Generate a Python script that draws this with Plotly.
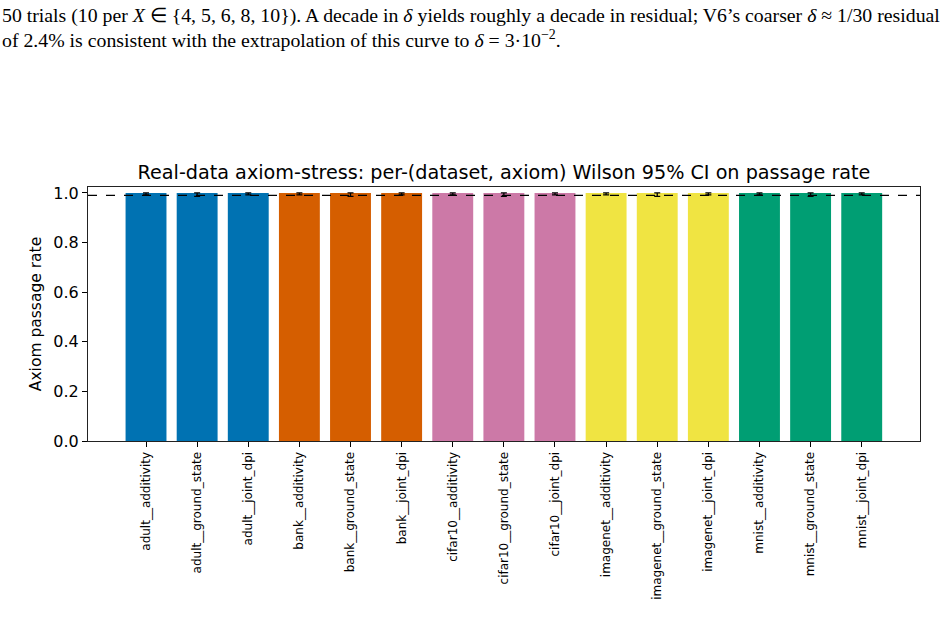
import plotly.graph_objects as go

labels = ["adult__additivity", "adult__ground_state", "adult__joint_dpi",
          "bank__additivity", "bank__ground_state", "bank__joint_dpi",
          "cifar10__additivity", "cifar10__ground_state", "cifar10__joint_dpi",
          "imagenet__additivity", "imagenet__ground_state", "imagenet__joint_dpi",
          "mnist__additivity", "mnist__ground_state", "mnist__joint_dpi"]
rates = [1.0] * 15
ci_low = [0.992, 0.986, 0.992, 0.992, 0.986, 0.992, 0.992, 0.986, 0.992,
          0.992, 0.986, 0.992, 0.992, 0.986, 0.992]
ci_high = [1.0] * 15
threshold = 0.99
dataset_colors = {"adult": "#0072B2", "bank": "#D55E00", "cifar10": "#CC79A7",
                  "imagenet": "#F0E442", "mnist": "#009E73"}

colors = [dataset_colors[l.split("__")[0]] for l in labels]
x = list(range(len(labels)))

fig = go.Figure()
fig.add_trace(go.Bar(
    x=x, y=rates, width=0.8, marker=dict(color=colors, line=dict(width=0)),
    error_y=dict(type="data", symmetric=False,
                 array=[h - r for h, r in zip(ci_high, rates)],
                 arrayminus=[r - l for r, l in zip(rates, ci_low)],
                 color="black", thickness=1.3, width=3),
    showlegend=False,
))
fig.add_shape(type="line", xref="paper", x0=0, x1=1, yref="y", y0=threshold, y1=threshold,
              line=dict(color="black", width=1.2, dash="dash"))

fig.update_layout(
    width=948, height=641,
    margin=dict(l=88, r=28, t=187, b=200),
    plot_bgcolor="white", paper_bgcolor="white",
    font=dict(family="DejaVu Sans", color="black"),
    title=dict(text="Real-data axiom-stress: per-(dataset, axiom) Wilson 95% CI on passage rate",
               x=0.5316, xanchor="center", y=1 - 172 / 641, yanchor="middle",
               font=dict(size=19.2, family="DejaVu Sans", color="black")),
    xaxis=dict(range=[-1.135, 15.14], tickmode="array", tickvals=x, ticktext=labels,
               tickangle=-90, tickfont=dict(size=12), ticks="outside", ticklen=5,
               tickcolor="black", showline=True, linecolor="#222", linewidth=1.2,
               mirror=True, showgrid=False, zeroline=False),
    yaxis=dict(range=[0, 1.024], tickmode="array", tickvals=[0, 0.2, 0.4, 0.6, 0.8, 1.0],
               ticktext=["0.0", "0.2", "0.4", "0.6", "0.8", "1.0"],
               tickfont=dict(size=16), ticks="outside", ticklen=5, tickcolor="black",
               showline=True, linecolor="#222", linewidth=1.2, mirror=True,
               showgrid=False, zeroline=False,
               title=dict(text="Axiom passage rate", font=dict(size=15.5), standoff=7)),
)

serif = "Liberation Serif"
fig.add_annotation(xref="paper", yref="paper", x=-88 / 832, y=1 + (187 - 16) / 254,
                   xanchor="left", yanchor="middle", showarrow=False,
                   font=dict(family=serif, size=19.8, color="black"),
                   text="50 trials (10 per <i>X</i> ∈ {4, 5, 6, 8, 10}). A decade in <i>δ</i> yields roughly a decade in residual; V6’s coarser <i>δ</i> ≈ 1/30 residual")
fig.add_annotation(xref="paper", yref="paper", x=-88 / 832, y=1 + (187 - 39) / 254,
                   xanchor="left", yanchor="middle", showarrow=False,
                   font=dict(family=serif, size=19.8, color="black"),
                   text="of 2.4% is consistent with the extrapolation of this curve to <i>δ</i> = 3·10<sup>−2</sup>.")

fig.write_html("out.html")
